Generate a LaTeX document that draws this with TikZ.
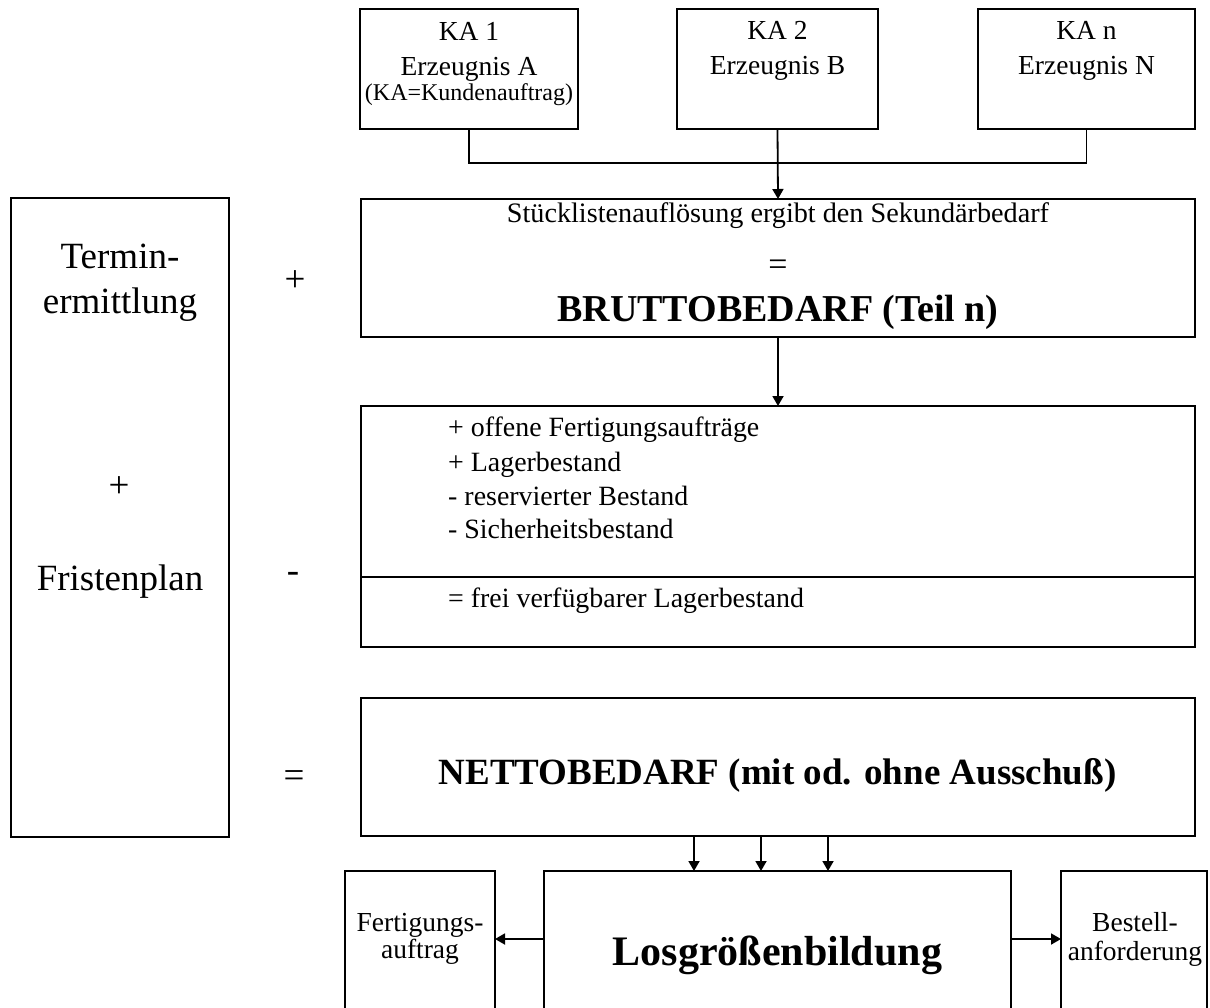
\documentclass[tikz,border=0pt]{standalone}
\usepackage{fontspec}
\setmainfont{Liberation Serif}
\usetikzlibrary{arrows.meta,calc}
\newcommand\setfs[1]{\fontsize{#1}{#1}\selectfont}
\begin{document}
\begin{tikzpicture}[x=1pt,y=-1pt,
  box/.style={draw, line width=2pt, rectangle, inner sep=0pt, outer sep=0pt, anchor=north west},
  conn/.style={line width=1.8pt},
  arr/.style={conn, -{Triangle[length=10pt,width=11pt]}},
  txt/.style={inner sep=0pt, anchor=base},
  ltxt/.style={inner sep=0pt, anchor=base west, font=\setfs{27.9}},
  normal/.style={font=\setfs{27.5}},
  big/.style={font=\setfs{37}},
  bold/.style={font=\setfs{37}\bfseries},
]
\useasboundingbox (0,0) rectangle (1210,1007);
\clip (0,0) rectangle (1210,1007);

% customer orders
\node[box, minimum width=218, minimum height=120] (ka1) at (360,9) {};
\node[box, minimum width=201, minimum height=120] (ka2) at (677,9) {};
\node[box, minimum width=217, minimum height=120] (kan) at (978,9) {};

% planning column on the left
\node[box, minimum width=218, minimum height=639] (plan) at (11,198) {};

% requirement boxes
\node[box, minimum width=834, minimum height=138] (stk) at (361,199) {};
\node[box, minimum width=834, minimum height=241] (lager) at (361,406) {};
\node[box, minimum width=834, minimum height=138] (netto) at (361,698) {};

% lot sizing and results
\node[box, minimum width=150, minimum height=200] (fert) at (345,871) {};
\node[box, minimum width=467, minimum height=200] (los) at (544,871) {};
\node[box, minimum width=146, minimum height=200] (best) at (1061,871) {};

% divider inside the stock box
\draw[line width=2pt] ($(lager.north west)+(0,171)$) -- ($(lager.north east)+(0,171)$);

% texts of the customer orders
\node[txt, normal] (t11) at (469,40) {KA 1};
\node[txt, normal] (t12) at (469,75) {Erzeugnis A};
\node[txt, font=\setfs{24}] (t13) at (469,100) {(KA=Kundenauftrag)};
\node[txt, normal] (t21) at (777.5,39) {KA 2};
\node[txt, normal] (t22) at (777.5,74) {Erzeugnis B};
\node[txt, normal] (tn1) at (1086.5,39) {KA n};
\node[txt, normal] (tn2) at (1086.5,74) {Erzeugnis N};

% gross requirement
\node[txt, font=\setfs{28.2}] (s1) at (778,222) {Stücklistenauflösung ergibt den Sekundärbedarf};
\node[txt, font=\setfs{34}] (s2) at (778,275) {=};
\node[txt, font=\setfs{38}\bfseries] (s3) at (778,321) {BRUTTOBEDARF (Teil n)};

% stock items
\node[ltxt] (l1) at (448,436) {+ offene Fertigungsaufträge};
\node[ltxt] (l2) at (448,471) {+ Lagerbestand};
\node[ltxt] (l3) at (448,505) {- reservierter Bestand};
\node[ltxt] (l4) at (448,538) {- Sicherheitsbestand};
\node[ltxt] (l5) at (448,607) {= frei verfügbarer Lagerbestand};

% net requirement and lot sizing
\node[txt, bold] (nt) at (777.5,784) {NETTOBEDARF (mit od. ohne Ausschuß)};
\node[txt, font=\setfs{42}\bfseries] (lt) at (777.5,965) {Losgrößenbildung};
\node[txt, normal] (f1) at (420,931) {Fertigungs-};
\node[txt, normal] (f2) at (420,958) {auftrag};
\node[txt, normal] (b1) at (1135,931) {Bestell-};
\node[txt, normal] (b2) at (1135,960) {anforderung};

% planning column texts
\node[txt, big] (p1) at (120,268) {Termin-};
\node[txt, big] (p2) at (120,313) {ermittlung};
\node[txt, big] (p3) at (119,497) {+};
\node[txt, big] (p4) at (120,590) {Fristenplan};

% operators between the columns
\node[txt, big] (o1) at (295,291) {+};
\node[txt, big] (o2) at (293,582) {-};
\node[txt, big] (o3) at (294,787) {=};

% connectors
\draw[conn] (ka1.south) -- ++(0,34) -| (kan.south);
\draw[arr] (ka2.south) -- (stk.north);
\draw[arr] (stk.south) -- (lager.north);

\coordinate (in1) at ($(los.north west)+(150,0)$);
\coordinate (in2) at ($(los.north west)+(217,0)$);
\coordinate (in3) at ($(los.north west)+(284,0)$);
\draw[arr] (in1 |- netto.south) -- (in1);
\draw[arr] (in2 |- netto.south) -- (in2);
\draw[arr] (in3 |- netto.south) -- (in3);

\coordinate (outl) at ($(los.north west)+(0,68)$);
\coordinate (outr) at ($(los.north east)+(0,68)$);
\draw[arr] (outl) -- (outl -| fert.east);
\draw[arr] (outr) -- (outr -| best.west);
\end{tikzpicture}
\end{document}
